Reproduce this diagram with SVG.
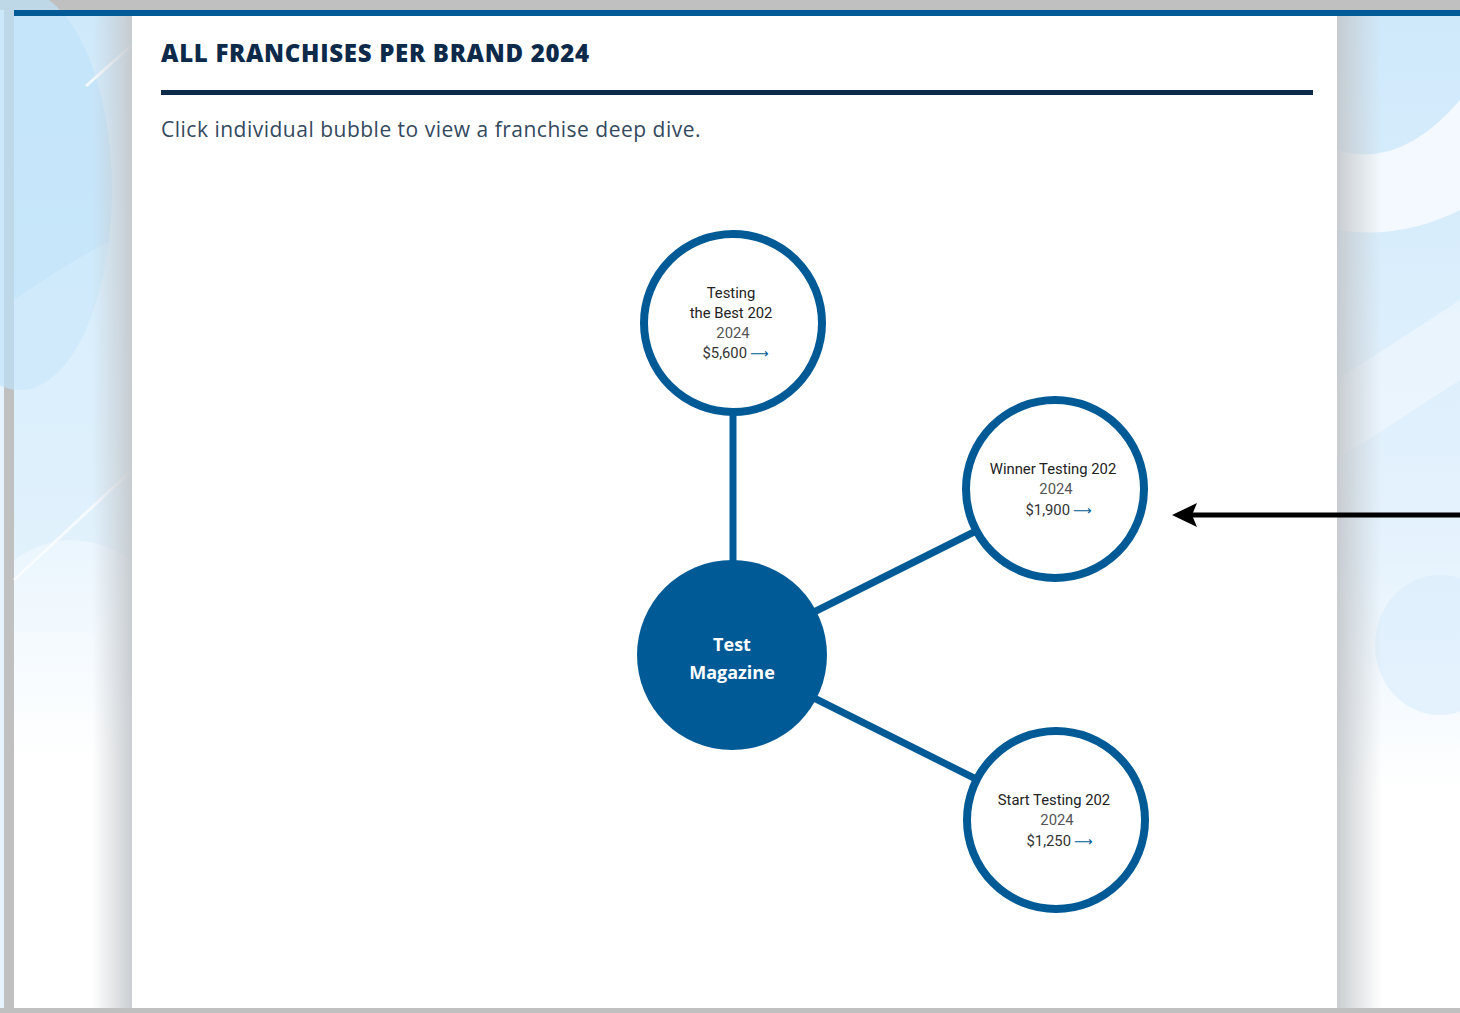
<svg xmlns="http://www.w3.org/2000/svg" width="1460" height="1013" viewBox="0 0 1460 1013">
  <defs>
    <linearGradient id="bgFade" x1="0" y1="0" x2="0" y2="1">
      <stop offset="0" stop-color="#cfe9fb"/>
      <stop offset="0.45" stop-color="#e3f2fd"/>
      <stop offset="0.75" stop-color="#ffffff"/>
      <stop offset="1" stop-color="#ffffff"/>
    </linearGradient>
    <linearGradient id="bgFadeR" x1="0" y1="0" x2="0" y2="1">
      <stop offset="0" stop-color="#cfe9fb"/>
      <stop offset="0.55" stop-color="#e6f3fd"/>
      <stop offset="0.78" stop-color="#ffffff"/>
      <stop offset="1" stop-color="#ffffff"/>
    </linearGradient>
    <linearGradient id="shadowL" x1="0" y1="0" x2="1" y2="0">
      <stop offset="0" stop-color="#c8ccd0" stop-opacity="0"/>
      <stop offset="1" stop-color="#c4c8cc" stop-opacity="0.9"/>
    </linearGradient>
    <linearGradient id="shadowR" x1="0" y1="0" x2="1" y2="0">
      <stop offset="0" stop-color="#c4c8cc" stop-opacity="0.9"/>
      <stop offset="1" stop-color="#c8ccd0" stop-opacity="0"/>
    </linearGradient>
    <style>
      .ring { fill: #ffffff; stroke: #005a96; stroke-width: 8; }
      .hub { fill: #005a96; }
      .edge { stroke: #005a96; stroke-width: 7; fill: none; }
      .name { font-family: "Roboto", "Liberation Sans", sans-serif; font-size: 14.8px; fill: #222222; text-anchor: middle; }
      .year { font-family: "Roboto", "Liberation Sans", sans-serif; font-size: 14.8px; fill: #555555; text-anchor: middle; }
      .price { font-family: "Roboto", "Liberation Sans", sans-serif; font-size: 14.8px; fill: #333333; text-anchor: end; }
      .arr { font-family: "DejaVu Sans", sans-serif; font-size: 13px; fill: #005a96; }
      .hubtxt { font-family: "Open Sans", "Liberation Sans", sans-serif; font-size: 18px; font-weight: 700; fill: #ffffff; text-anchor: middle; }
    </style>
  </defs>

  <!-- outer frame -->
  <rect x="0" y="0" width="1460" height="1013" fill="#c0c0c0"/>
  <rect x="0" y="10" width="4" height="1003" fill="#e8f4fd"/>

  <g id="background">
    <rect x="14" y="16" width="118" height="992" fill="url(#bgFade)"/>
    <ellipse cx="20" cy="190" rx="92" ry="200" fill="#bfe2fa" opacity="0.7"/>
    <path d="M14,300 Q70,260 132,230 L132,560 Q70,520 14,560 Z" fill="#d8edfb" opacity="0.5"/>
    <line x1="86" y1="86" x2="132" y2="45" stroke="#ffffff" stroke-width="3" opacity="0.8"/>
    <line x1="14" y1="580" x2="132" y2="470" stroke="#ffffff" stroke-width="3" opacity="0.7"/>
    <rect x="92" y="16" width="40" height="992" fill="url(#shadowL)"/>

    <rect x="1337" y="16" width="123" height="992" fill="url(#bgFadeR)"/>
    <path d="M1337,150 Q1400,170 1460,100 L1460,210 Q1400,240 1337,230 Z" fill="#f3f9fe"/>
    <path d="M1337,380 L1460,300 L1460,380 L1337,460 Z" fill="#eef7fe" opacity="0.7"/>
    <ellipse cx="1440" cy="645" rx="65" ry="70" fill="#d8edfb" opacity="0.6"/>
    <rect x="1337" y="16" width="45" height="992" fill="url(#shadowR)"/>

    <rect x="14" y="10" width="1446" height="6" fill="#005a96"/>
    <rect x="0" y="1008" width="1460" height="5" fill="#c0c0c0"/>
  </g>

  <rect x="132" y="16" width="1205" height="992" fill="#ffffff"/>

  <g id="header">
    <text x="161" y="62" font-family="Open Sans, Liberation Sans, sans-serif" font-size="24" font-weight="800" letter-spacing="0.7" fill="#0d2a4b">ALL FRANCHISES PER BRAND 2024</text>
    <rect x="161" y="90" width="1152" height="5" fill="#0d2a4b"/>
    <text x="161" y="137" font-family="Open Sans, Liberation Sans, sans-serif" font-size="21" font-weight="400" letter-spacing="0.5" fill="#34495e">Click individual bubble to view a franchise deep dive.</text>
  </g>

  <g id="connectors">
    <line class="edge" x1="733" y1="410" x2="733" y2="570"/>
    <line class="edge" x1="810" y1="614" x2="980" y2="529"/>
    <line class="edge" x1="810" y1="696" x2="980" y2="781"/>
  </g>

  <g id="node-hub">
    <circle class="hub" cx="732" cy="655" r="95"/>
    <text class="hubtxt" x="732" y="651">Test</text>
    <text class="hubtxt" x="732" y="679">Magazine</text>
  </g>

  <g id="node-testing-best">
    <circle class="ring" cx="733" cy="323" r="89"/>
    <text class="name" x="731" y="298">Testing</text>
    <text class="name" x="731" y="318">the Best 202</text>
    <text class="year" x="733" y="338">2024</text>
    <text class="price" x="747" y="358">$5,600</text>
    <text class="arr" x="750" y="358">⟶</text>
  </g>

  <g id="node-winner-testing">
    <circle class="ring" cx="1055" cy="489" r="89"/>
    <text class="name" x="1053" y="474">Winner Testing 202</text>
    <text class="year" x="1056" y="494">2024</text>
    <text class="price" x="1070" y="515">$1,900</text>
    <text class="arr" x="1073" y="515">⟶</text>
  </g>

  <g id="node-start-testing">
    <circle class="ring" cx="1056" cy="820" r="89"/>
    <text class="name" x="1054" y="805">Start Testing 202</text>
    <text class="year" x="1057" y="825">2024</text>
    <text class="price" x="1071" y="846">$1,250</text>
    <text class="arr" x="1074" y="846">⟶</text>
  </g>

  <g id="annotation">
    <line x1="1460" y1="515" x2="1192" y2="515" stroke="#000" stroke-width="5"/>
    <path d="M1172,515 L1197,503 L1192,515 L1197,527 Z" fill="#000"/>
  </g>
</svg>
